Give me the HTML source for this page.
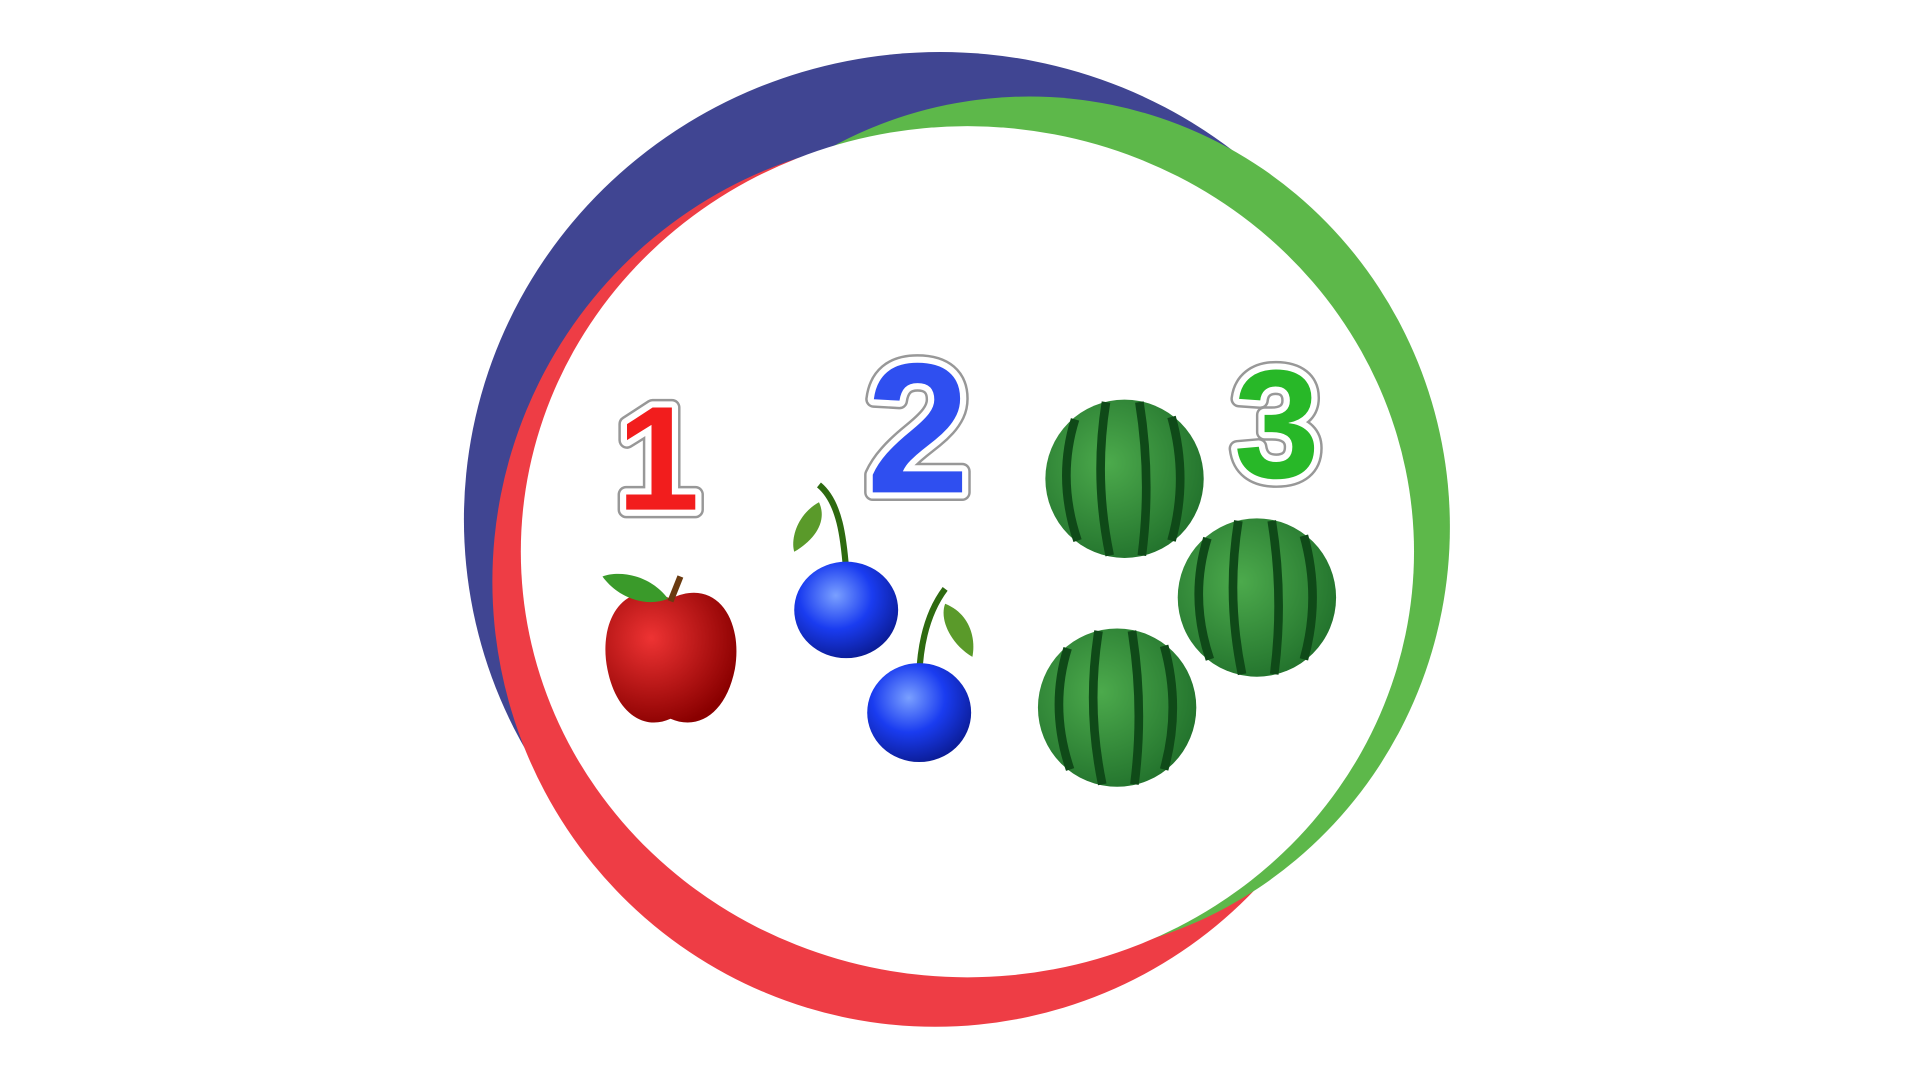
<!DOCTYPE html>
<html><head><meta charset="utf-8"><style>
html,body{margin:0;padding:0;background:#fff;width:1920px;height:1080px;overflow:hidden}
svg{display:block}
.num{font-family:"Liberation Sans",sans-serif;font-weight:bold;paint-order:stroke;stroke:#fff;stroke-width:10;stroke-linejoin:round}
.numo{font-family:"Liberation Sans",sans-serif;font-weight:bold;fill:none;stroke:#333;stroke-width:14;stroke-linejoin:round;opacity:0.5}
</style></head><body>
<svg width="1920" height="1080" viewBox="0 0 1552 873" preserveAspectRatio="none">
 <defs>
  <radialGradient id="ap" cx="0.35" cy="0.35" r="0.7"><stop offset="0" stop-color="#e33"/><stop offset="1" stop-color="#8a0000"/></radialGradient>
  <radialGradient id="ch" cx="0.4" cy="0.35" r="0.7"><stop offset="0" stop-color="#7aa0ff"/><stop offset="0.5" stop-color="#1a3cf0"/><stop offset="1" stop-color="#0a1a90"/></radialGradient>
  <radialGradient id="wm" cx="0.4" cy="0.4" r="0.7"><stop offset="0" stop-color="#4caa4c"/><stop offset="1" stop-color="#1f6e2a"/></radialGradient>
  <g id="melon">
   <circle r="64" fill="url(#wm)"/>
   <path d="M-40,-48 Q-55,0 -38,50 M-15,-62 Q-25,0 -12,62 M12,-62 Q22,0 14,62 M38,-50 Q52,0 38,50" stroke="#0f4a18" stroke-width="7" fill="none"/>
  </g>
 </defs>
 <ellipse cx="760" cy="420" rx="385" ry="378" fill="#404592"/>
 <ellipse cx="756" cy="470" rx="358" ry="360" fill="#ee3d45"/>
 <ellipse cx="832" cy="426" rx="340" ry="348" fill="#5db84a"/>
 <ellipse cx="782" cy="446" rx="361" ry="344" fill="#fff"/>

 <text class="numo" x="532" y="412" font-size="120" text-anchor="middle">1</text>
 <text class="num" x="532" y="412" font-size="120" text-anchor="middle" fill="#f21d1d">1</text>
 <text class="numo" x="742" y="398" font-size="150" text-anchor="middle">2</text>
 <text class="num" x="742" y="398" font-size="150" text-anchor="middle" fill="#2f4ff0">2</text>
 <text class="numo" x="1032" y="386" font-size="125" text-anchor="middle">3</text>
 <text class="num" x="1032" y="386" font-size="125" text-anchor="middle" fill="#28b828">3</text>

 <g transform="translate(-5,-4)">
  <path d="M547,488 C510,470 488,505 496,545 C503,580 525,595 547,585 C570,595 592,580 599,545 C606,505 584,470 547,488Z" fill="url(#ap)"/>
  <path d="M547,490 L555,470" stroke="#6a3a10" stroke-width="5"/>
  <path d="M545,488 C530,468 505,465 492,470 C505,488 528,495 545,488Z" fill="#3a9a2a"/>
 </g>
 <g transform="translate(-6,-4)">
  <path d="M668,396 C685,410 688,440 690,465" stroke="#2e6a10" stroke-width="5" fill="none"/>
  <path d="M668,410 C650,420 645,440 648,450 C665,440 675,425 668,410Z" fill="#5a9a2a"/>
  <ellipse cx="690" cy="497" rx="42" ry="39" fill="url(#ch)"/>
  <path d="M770,480 C755,500 750,525 749,550" stroke="#2e6a10" stroke-width="5" fill="none"/>
  <path d="M770,492 C790,500 795,520 792,535 C775,525 765,505 770,492Z" fill="#5a9a2a"/>
  <ellipse cx="749" cy="580" rx="42" ry="40" fill="url(#ch)"/>
 </g>
 <g transform="translate(-8,-3)">
  <use href="#melon" x="917" y="390"/>
  <use href="#melon" x="1024" y="486"/>
  <use href="#melon" x="911" y="575"/>
 </g>
</svg>
</body></html>
